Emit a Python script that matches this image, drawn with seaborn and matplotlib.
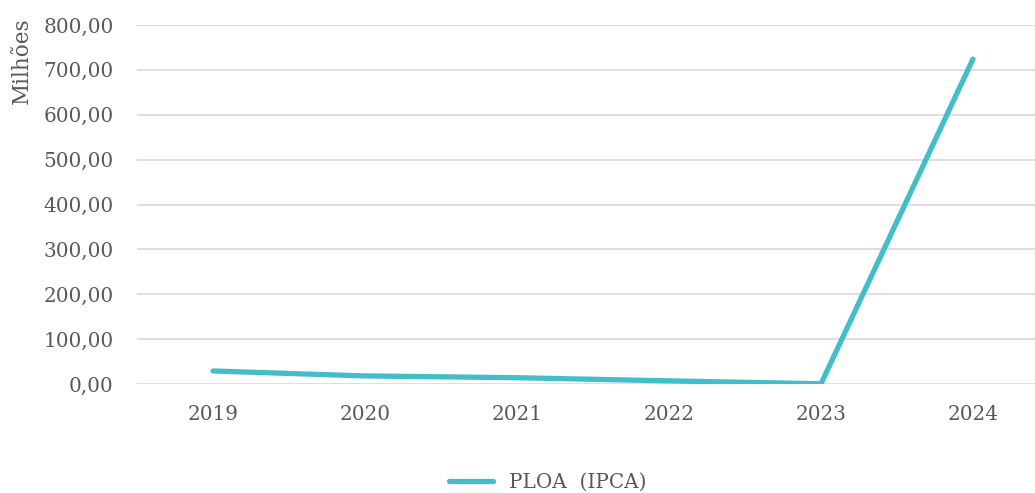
import matplotlib
matplotlib.use("Agg")
import matplotlib.pyplot as plt
import seaborn as sns
import pandas as pd
from matplotlib.ticker import FuncFormatter, FixedLocator
from matplotlib.lines import Line2D

years = ["2019", "2020", "2021", "2022", "2023", "2024"]
ploa_ipca = [29.0, 18.0, 14.0, 7.0, 0.5, 724.0]
y_ticks = [0, 100, 200, 300, 400, 500, 600, 700, 800]
series_name = "PLOA  (IPCA)"

sns.set_theme(style="white")
plt.rcParams["font.family"] = ["DejaVu Serif"]

text_color = "#595959"
line_color = "#44BDCB"
grid_color = "#D9D9D9"

df = pd.DataFrame({"ano": range(len(years)), "valor": ploa_ipca, "serie": series_name})

fig = plt.figure(figsize=(10.35, 4.93), dpi=100)
ax = fig.add_axes([137 / 1035, 1 - 384 / 493, 912 / 1035, (384 - 25) / 493])

sns.lineplot(data=df, x="ano", y="valor", hue="serie", palette=[line_color],
             linewidth=3.8, ax=ax, legend=False, solid_capstyle="round")

ax.set_xlim(-0.5, len(years) - 0.5)
ax.set_ylim(0, 800)
ax.yaxis.set_major_locator(FixedLocator(y_ticks))
ax.yaxis.set_major_formatter(FuncFormatter(lambda v, p: f"{v:,.2f}".replace(",", "X").replace(".", ",").replace("X", ".")))
ax.set_xticks(range(len(years)))
ax.set_xticklabels(years)
ax.grid(axis="y", color=grid_color, linewidth=1.2)
ax.set_axisbelow(True)
for s in ax.spines.values():
    s.set_visible(False)
ax.tick_params(axis="both", length=0, labelsize=14.4, colors=text_color)
ax.tick_params(axis="y", pad=17)
ax.tick_params(axis="x", pad=15)
ax.set_xlabel("")
ax.set_ylabel("")

fig.text(22 / 1035, 1 - 61 / 493, "Milhões", rotation=90, ha="center", va="center",
         fontsize=15.5, color=text_color)

# legend below the plot
handle = Line2D([0], [0], color=line_color, linewidth=3.8, solid_capstyle="round")
fig.legend([handle], [series_name], loc="center", bbox_to_anchor=(548 / 1035, 1 - 482 / 493),
           frameon=False, fontsize=14.4, labelcolor=text_color, handlelength=2.2, handletextpad=0.8)

fig.savefig("out.png", dpi=100)
